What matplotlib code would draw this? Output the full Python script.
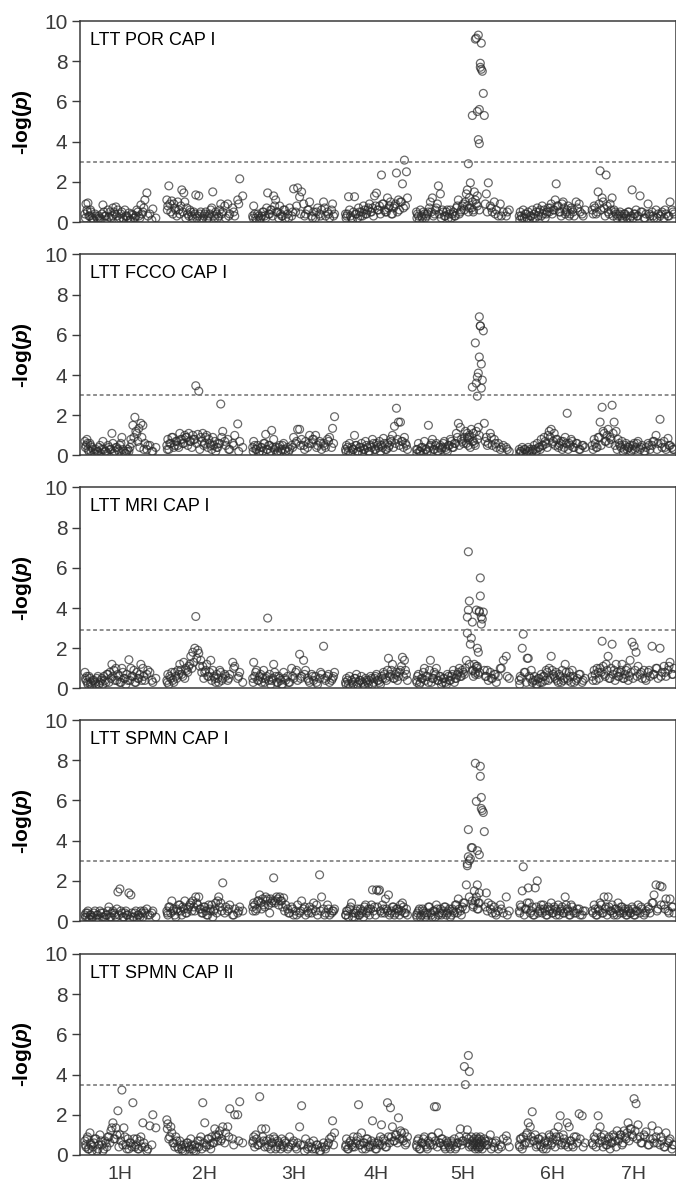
import matplotlib.pyplot as plt

plt.rcParams['font.family'] = ['Liberation Sans', 'DejaVu Sans']
plt.rcParams['mathtext.fontset'] = 'custom'
plt.rcParams['mathtext.it'] = 'Liberation Sans:italic:bold'
plt.rcParams['mathtext.rm'] = 'Liberation Sans:bold'

chroms = ["1H", "2H", "3H", "4H", "5H", "6H", "7H"]

# marker positions, cumulative along the genome
pos_1h = [5, 6, 7, 8, 10, 11, 12, 14, 16, 18, 20, 22, 23, 25, 27, 29, 30, 32, 33, 35,
          36, 38, 40, 42, 44, 46, 48, 49, 51, 53, 55, 57, 59, 61, 63, 65, 67, 70, 73, 76]
pos_2h = [87, 88, 89, 91, 92, 94, 96, 98, 100, 102, 104, 105, 107, 109, 111, 113, 115, 116, 118, 119,
          121, 123, 125, 127, 129, 131, 133, 135, 137, 139, 141, 143, 146, 148, 150, 153, 155, 158, 160, 163]
pos_3h = [173, 174, 176, 178, 180, 182, 184, 186, 188, 190, 192, 194, 196, 198, 200, 202, 204, 206, 208, 210,
          212, 214, 216, 218, 220, 222, 224, 226, 228, 230, 232, 234, 236, 238, 240, 242, 244, 246, 248, 250,
          253, 255]
pos_4h = [266, 267, 269, 270, 272, 274, 275, 277, 279, 281, 282, 284, 286, 288, 290, 291, 293, 295, 297, 299,
          300, 302, 304, 306, 308, 309, 311, 313, 315, 317, 319, 321, 323, 325, 327, 328]
pos_5h = [337, 339, 341, 343, 345, 347, 349, 351, 353, 355, 357, 359, 361, 363, 365, 367, 369, 371, 373, 375,
          377, 379, 381, 383,
          385, 386, 387, 388, 388, 389, 389, 390, 391, 392, 393, 393, 394, 395, 396, 397, 397, 398, 398, 399,
          399, 400, 400, 401, 401, 402, 402, 403, 404, 405,
          407, 409, 411, 413, 415, 417, 419, 421, 424, 427, 430]
pos_6h = [440, 441, 443, 444, 446, 448, 449, 451, 453, 455, 456, 458, 460, 462, 463, 465, 467, 469, 470, 472,
          474, 476, 477, 479, 481, 483, 484, 486, 488, 490, 492, 494, 497, 500, 503, 506]
pos_7h = [513, 515, 517, 519, 521, 523, 525, 527, 529, 531, 533, 535, 537, 539, 541, 543, 545, 547, 549, 551,
          553, 555, 557, 559, 561, 563, 565, 567, 569, 571, 573, 575, 577, 579, 581, 583, 585, 587, 589, 591,
          593, 595]
positions = [pos_1h, pos_2h, pos_3h, pos_4h, pos_5h, pos_6h, pos_7h]

# second marker panel, sitting between the first one
pos2_1h = [5.5, 7.5, 9, 10.5, 13, 15, 17, 19, 21, 24, 26, 28, 31, 34, 37, 39, 41, 43, 45, 47,
           50, 52, 54, 56, 58, 60, 62, 64, 68, 72]
pos2_2h = [87.5, 90, 93, 95, 97, 99, 101, 103, 106, 108, 110, 112, 114, 117, 120, 122, 124, 126, 128, 130,
           132, 134, 136, 138, 140, 142, 145, 149, 154, 159]
pos2_3h = [173.5, 175, 177, 179, 181, 183, 185, 187, 189, 191, 193, 195, 197, 199, 201, 203, 205, 209, 213, 217,
           221, 225, 229, 233, 237, 241, 245, 249, 252, 254]
pos2_4h = [266.5, 268, 271, 273, 276, 278, 280, 283, 285, 287, 289, 292, 294, 296, 298, 301, 303, 305, 307, 310,
           312, 314, 316, 318, 320, 322, 324, 326]
pos2_5h = [337.5, 338, 340, 342, 344, 346, 348, 350, 352, 354, 356, 358, 360, 362, 364, 366, 368, 370, 372, 374,
           376, 378, 380, 382, 384, 390, 394, 396, 398, 400, 406, 408, 412, 416, 422, 428]
pos2_6h = [440.5, 442, 445, 447, 450, 452, 454, 457, 459, 461, 464, 466, 468, 471, 473, 475, 478, 480, 482, 485,
           487, 489, 491, 493, 495, 498, 501, 504]
pos2_7h = [514, 516, 518, 520, 522, 524, 526, 528, 530, 532, 534, 536, 538, 540, 542, 544, 546, 548, 550, 552,
           554, 556, 558, 562, 566, 570, 574, 578, 582, 586, 590, 594]
positions2 = [pos2_1h, pos2_2h, pos2_3h, pos2_4h, pos2_5h, pos2_6h, pos2_7h]

# -log(p) per trait, one list per chromosome
por_cap1 = [
    [0.4, 0.9, 0.6, 0.95, 0.3, 0.5, 0.2, 0.1, 0.3, 0.15, 0.2, 0.4, 0.85, 0.3, 0.1, 0.25, 0.5, 0.3, 0.7, 0.4,
     0.75, 0.6, 0.2, 0.5, 0.1, 0.3, 0.2, 0.45, 0.1, 0.35, 0.2, 0.6, 0.3, 0.85, 0.5, 1.1, 1.45, 0.4, 0.65, 0.2],
    [1.1, 0.8, 1.8, 0.5, 1.05, 0.9, 0.6, 1.0, 0.4, 1.6, 1.45, 1.0, 0.7, 0.3, 0.5, 0.2, 0.4, 1.35, 0.3, 1.3,
     0.5, 0.2, 0.4, 0.1, 0.3, 0.6, 1.5, 0.2, 0.4, 0.3, 0.9, 0.5, 0.2, 0.9, 0.4, 0.7, 0.3, 1.1, 2.15, 1.3],
    [0.3, 0.8, 0.2, 0.4, 0.1, 0.3, 0.5, 0.2, 1.45, 0.4, 0.6, 1.3, 1.1, 0.5, 0.8, 0.3, 0.6, 0.2, 0.4, 0.7,
     0.3, 1.65, 0.5, 1.7, 1.25, 1.5, 0.9, 0.4, 0.6, 1.0, 0.3, 0.5, 0.2, 0.7, 0.4, 0.6, 1.0, 0.3, 0.5, 0.2,
     0.9, 0.4],
    [0.4, 0.3, 1.26, 0.6, 0.2, 0.5, 1.26, 0.4, 0.7, 0.3, 0.5, 0.8, 0.4, 0.6, 0.9, 0.5, 0.7, 1.3, 1.44, 0.6,
     0.8, 2.34, 0.9, 0.5, 1.2, 0.7, 1.0, 0.4, 0.8, 2.44, 1.1, 1.0, 1.9, 3.08, 2.5, 1.2],
    [0.5, 0.3, 0.6, 0.2, 0.4, 0.3, 0.5, 1.0, 1.2, 0.4, 0.7, 1.8, 1.4, 0.6, 0.3, 0.5, 0.2, 0.6, 0.4, 0.3,
     0.7, 1.1, 0.5, 0.8,
     0.6, 1.0, 1.4, 1.6, 0.8, 2.9, 0.5, 1.2, 1.95, 0.7, 5.3, 1.0, 0.6, 1.5, 9.1, 9.15, 0.9, 5.5, 1.3, 9.3,
     4.1, 5.6, 3.9, 7.9, 7.7, 8.9, 7.6, 7.5, 6.4, 5.3,
     1.4, 1.95, 0.8, 0.5, 1.0, 0.6, 0.3, 0.9, 0.5, 0.3, 0.6],
    [0.3, 0.5, 0.2, 0.6, 0.4, 0.2, 0.5, 0.3, 0.6, 0.4, 0.2, 0.7, 0.5, 0.3, 0.8, 0.6, 0.4, 0.7, 0.5, 0.9,
     0.6, 1.1, 1.9, 0.8, 0.5, 0.9, 1.0, 0.4, 0.6, 0.3, 0.7, 0.5, 1.0, 0.9, 0.4, 0.6],
    [0.6, 0.8, 0.4, 1.5, 2.55, 1.2, 0.7, 2.34, 0.5, 0.9, 1.2, 0.6, 0.4, 0.3, 0.5, 0.2, 0.4, 0.3, 0.5, 0.2,
     1.6, 0.4, 0.6, 0.3, 1.3, 0.5, 0.2, 0.4, 0.9, 0.3, 0.5, 0.2, 0.6, 0.4, 0.3, 0.5, 0.2, 0.4, 0.3, 1.0,
     0.6, 0.4],
]
por_cap1_2 = [
    [0.2, 0.5, 0.3, 0.6, 0.1, 0.4, 0.2, 0.3, 0.1, 0.5, 0.3, 0.6, 0.2, 0.5, 0.3, 0.1, 0.4, 0.2, 0.6, 0.3,
     0.1, 0.4, 0.2, 0.3, 0.5, 0.2, 0.4, 0.7, 0.3, 0.1],
    [0.6, 0.9, 0.4, 0.7, 0.3, 0.6, 0.8, 0.5, 0.2, 0.4, 0.6, 0.3, 0.5, 0.2, 0.4, 0.1, 0.3, 0.5, 0.2, 0.4,
     0.7, 0.3, 0.5, 0.2, 0.6, 0.4, 0.8, 0.3, 0.5, 0.9],
    [0.2, 0.4, 0.1, 0.3, 0.2, 0.5, 0.3, 0.7, 0.4, 0.6, 0.3, 0.8, 0.5, 0.2, 0.4, 0.3, 0.6, 0.2, 0.5, 0.8,
     0.4, 0.3, 0.6, 0.2, 0.5, 0.3, 0.7, 0.4, 0.6, 0.3],
    [0.2, 0.4, 0.3, 0.1, 0.4, 0.2, 0.5, 0.3, 0.6, 0.4, 0.7, 0.5, 0.3, 0.8, 0.6, 0.4, 0.9, 0.6, 0.5, 0.8,
     0.4, 0.7, 0.9, 0.5, 0.6, 1.0, 0.7, 0.8],
    [0.2, 0.4, 0.1, 0.3, 0.5, 0.2, 0.4, 0.7, 0.5, 0.3, 0.6, 0.9, 0.4, 0.2, 0.5, 0.3, 0.6, 0.4, 0.2, 0.5,
     0.3, 0.8, 0.4, 0.6, 0.9, 0.7, 0.5, 1.1, 0.8, 0.6, 0.9, 0.5, 0.7, 0.4, 0.3, 0.5],
    [0.1, 0.3, 0.2, 0.4, 0.1, 0.3, 0.2, 0.5, 0.3, 0.6, 0.4, 0.2, 0.5, 0.7, 0.4, 0.6, 0.8, 0.5, 0.3, 0.7,
     0.5, 0.8, 0.4, 0.6, 0.3, 0.7, 0.5, 0.3],
    [0.4, 0.7, 0.5, 0.9, 0.6, 1.0, 0.3, 0.8, 0.4, 0.6, 0.3, 0.5, 0.2, 0.4, 0.3, 0.1, 0.4, 0.2, 0.5, 0.3,
     0.2, 0.4, 0.3, 0.5, 0.2, 0.4, 0.3, 0.2, 0.4, 0.6, 0.3, 0.5],
]

fcco_cap1 = [
    [0.7, 0.5, 0.8, 0.3, 0.6, 0.2, 0.4, 0.1, 0.3, 0.2, 0.5, 0.3, 0.7, 0.2, 0.1, 0.4, 0.3, 1.1, 0.6, 0.2,
     0.4, 0.3, 0.5, 0.9, 0.2, 0.1, 0.3, 0.2, 0.8, 1.5, 1.9, 1.1, 1.35, 1.6, 1.5, 0.6, 0.3, 0.5, 0.2, 0.4],
    [0.5, 0.8, 0.3, 0.6, 0.9, 0.4, 0.7, 0.5, 1.1, 0.8, 0.6, 1.0, 0.9, 1.1, 0.7, 1.0, 0.8, 3.47, 1.05, 3.2,
     0.9, 1.1, 0.6, 1.0, 0.8, 0.5, 0.9, 0.7, 0.4, 0.6, 2.56, 1.2, 0.5, 0.8, 0.3, 0.6, 1.0, 1.57, 0.7, 0.4],
    [0.4, 0.7, 0.3, 0.5, 0.2, 0.4, 0.6, 1.05, 0.3, 0.5, 1.25, 0.8, 0.4, 0.2, 0.5, 0.3, 0.6, 0.2, 0.4, 0.3,
     0.5, 0.9, 0.6, 1.3, 1.3, 0.8, 0.5, 0.7, 0.4, 1.0, 0.6, 0.8, 1.0, 0.5, 0.7, 0.3, 0.6, 0.4, 0.8, 0.9,
     1.35, 1.93],
    [0.3, 0.5, 0.2, 0.6, 0.4, 0.3, 1.0, 0.5, 0.2, 0.4, 0.6, 0.3, 0.7, 0.4, 0.2, 0.5, 0.8, 0.3, 0.6, 0.4,
     0.7, 0.5, 0.85, 0.3, 0.6, 0.4, 0.8, 1.0, 1.45, 2.35, 1.66, 1.66, 0.7, 0.9, 0.5, 0.3],
    [0.3, 0.6, 0.2, 0.4, 0.7, 0.3, 1.5, 0.5, 0.8, 0.3, 0.6, 0.2, 0.5, 0.4, 0.7, 0.3, 0.5, 0.8, 0.4, 0.6,
     1.1, 1.6, 1.4, 0.7,
     0.9, 1.2, 0.6, 0.9, 1.1, 0.5, 0.8, 1.0, 0.4, 1.3, 3.4, 0.7, 1.1, 0.6, 5.6, 3.6, 1.2, 3.9, 2.95, 1.4,
     4.1, 6.9, 4.9, 6.45, 6.44, 3.35, 4.55, 3.75, 6.2, 1.6,
     0.9, 0.6, 1.1, 0.5, 0.8, 0.4, 0.6, 0.3, 0.5, 0.4, 0.2],
    [0.3, 0.2, 0.4, 0.1, 0.3, 0.2, 0.4, 0.3, 0.2, 0.5, 0.3, 0.6, 0.4, 0.8, 0.5, 0.9, 0.6, 1.0, 1.2, 1.3,
     0.7, 0.5, 0.8, 0.4, 0.6, 0.3, 0.7, 0.9, 2.1, 0.6, 0.8, 0.4, 0.6, 0.3, 0.5, 0.4],
    [0.5, 0.8, 0.4, 0.9, 1.66, 2.4, 1.1, 0.7, 1.3, 0.9, 2.5, 1.66, 1.2, 0.8, 0.5, 0.7, 0.3, 0.6, 0.4, 0.5,
     0.3, 0.6, 0.4, 0.7, 0.3, 0.5, 0.2, 0.4, 0.6, 0.3, 0.5, 0.7, 1.0, 0.6, 1.8, 0.4, 0.7, 0.3, 0.85, 0.5,
     0.4, 0.3],
]
fcco_cap1_2 = [
    [0.4, 0.6, 0.2, 0.5, 0.3, 0.1, 0.2, 0.4, 0.1, 0.3, 0.2, 0.5, 0.3, 0.1, 0.4, 0.2, 0.6, 0.3, 0.1, 0.2,
     0.4, 0.6, 0.9, 1.2, 0.7, 0.4, 0.9, 0.3, 0.5, 0.2],
    [0.3, 0.6, 0.9, 0.5, 0.7, 0.4, 0.8, 0.6, 0.9, 0.5, 0.7, 0.4, 0.8, 0.6, 0.3, 0.7, 0.5, 0.9, 0.4, 0.6,
     0.3, 0.5, 0.2, 0.4, 0.6, 0.9, 0.7, 0.3, 0.5, 0.2],
    [0.2, 0.5, 0.3, 0.1, 0.4, 0.2, 0.6, 0.3, 0.5, 0.2, 0.4, 0.3, 0.1, 0.4, 0.2, 0.5, 0.3, 0.2, 0.4, 0.7,
     0.5, 0.3, 0.6, 0.8, 0.4, 0.6, 0.5, 0.7, 0.4, 0.6],
    [0.2, 0.4, 0.1, 0.3, 0.5, 0.2, 0.4, 0.1, 0.3, 0.5, 0.2, 0.4, 0.6, 0.3, 0.5, 0.2, 0.4, 0.6, 0.3, 0.5,
     0.7, 0.4, 0.6, 0.8, 0.5, 0.7, 0.4, 0.6],
    [0.1, 0.3, 0.2, 0.4, 0.1, 0.3, 0.2, 0.4, 0.6, 0.3, 0.5, 0.2, 0.4, 0.3, 0.6, 0.4, 0.2, 0.5, 0.7, 0.4,
     0.6, 0.9, 0.5, 0.8, 0.6, 0.9, 0.7, 0.5, 0.8, 1.0, 0.7, 0.5, 0.9, 0.6, 0.4, 0.3],
    [0.1, 0.2, 0.3, 0.1, 0.2, 0.1, 0.3, 0.2, 0.4, 0.3, 0.5, 0.7, 0.4, 0.9, 0.6, 1.1, 0.8, 0.5, 0.7, 0.4,
     0.6, 0.3, 0.5, 0.7, 0.4, 0.6, 0.3, 0.5],
    [0.3, 0.6, 0.4, 0.9, 0.5, 1.2, 0.7, 1.0, 0.6, 0.8, 1.1, 0.5, 0.3, 0.6, 0.4, 0.2, 0.5, 0.3, 0.4, 0.2,
     0.5, 0.3, 0.6, 0.4, 0.2, 0.5, 0.7, 0.3, 0.6, 0.4, 0.5, 0.3],
]

mri_cap1 = [
    [0.8, 0.4, 0.6, 0.2, 0.5, 0.3, 0.1, 0.4, 0.2, 0.6, 0.3, 0.5, 0.2, 0.4, 0.7, 0.3, 0.8, 1.2, 0.6, 0.4,
     1.0, 0.7, 0.3, 1.0, 0.5, 0.2, 0.4, 1.43, 1.0, 0.6, 0.3, 0.8, 0.5, 1.2, 1.0, 0.4, 0.7, 0.8, 0.3, 0.5],
    [0.4, 0.7, 0.2, 0.5, 0.8, 0.3, 0.6, 0.9, 1.2, 0.7, 1.3, 0.5, 0.9, 1.1, 1.6, 1.8, 2.0, 3.58, 1.9, 1.75,
     1.4, 1.1, 0.8, 1.2, 0.6, 1.4, 0.9, 0.5, 0.7, 0.3, 0.8, 0.5, 0.6, 0.4, 0.7, 1.3, 1.1, 0.5, 0.8, 0.3],
    [0.5, 1.3, 0.8, 0.4, 0.6, 0.3, 0.9, 0.5, 3.5, 0.7, 0.4, 1.2, 0.6, 0.3, 0.5, 0.2, 0.8, 0.4, 0.6, 0.3,
     1.0, 0.5, 0.8, 0.4, 1.7, 0.6, 1.4, 0.9, 0.5, 0.3, 0.7, 0.4, 0.6, 0.2, 0.5, 0.7, 2.1, 0.4, 0.6, 0.3,
     0.5, 0.8],
    [0.3, 0.5, 0.2, 0.6, 0.4, 0.2, 0.5, 0.7, 0.3, 0.4, 0.6, 0.2, 0.5, 0.3, 0.4, 0.6, 0.2, 0.5, 0.7, 0.4,
     0.3, 0.6, 0.8, 0.5, 0.9, 1.5, 0.7, 1.2, 0.5, 0.8, 0.6, 0.9, 1.55, 1.4, 0.7, 0.4],
    [0.4, 0.7, 0.3, 0.5, 1.0, 0.6, 0.3, 1.4, 0.5, 0.8, 1.0, 0.4, 0.6, 0.3, 0.5, 0.2, 0.6, 0.4, 0.7, 0.3,
     0.5, 0.8, 0.6, 0.9,
     0.7, 1.0, 1.4, 3.55, 2.75, 6.8, 3.9, 4.35, 2.2, 2.5, 3.3, 0.9, 0.6, 1.2, 0.8, 3.9, 1.1, 2.0, 1.1, 1.8,
     0.7, 3.8, 3.85, 5.5, 4.6, 3.55, 3.2, 3.45, 3.8, 0.9,
     0.6, 0.4, 0.8, 0.5, 0.7, 0.3, 0.6, 1.0, 1.4, 1.6, 0.5],
    [0.4, 0.6, 2.0, 2.7, 0.8, 1.5, 1.5, 0.5, 0.3, 0.6, 0.4, 0.2, 0.5, 0.7, 0.3, 0.6, 0.9, 0.4, 1.0, 1.6,
     0.7, 0.5, 0.8, 0.3, 0.6, 0.9, 0.4, 1.2, 0.5, 0.8, 0.3, 0.6, 0.4, 0.7, 0.3, 0.5],
    [0.6, 0.9, 0.4, 0.8, 1.0, 2.35, 0.7, 1.2, 1.6, 0.5, 2.2, 0.9, 1.2, 0.6, 0.8, 1.2, 0.5, 0.9, 0.4, 1.4,
     2.3, 2.1, 1.8, 1.1, 0.7, 0.5, 0.9, 0.4, 0.8, 0.6, 2.1, 0.7, 1.0, 0.5, 2.0, 0.8, 1.1, 0.6, 0.9, 1.3,
     0.7, 1.0],
]
mri_cap1_2 = [
    [0.5, 0.3, 0.6, 0.2, 0.4, 0.3, 0.5, 0.2, 0.4, 0.6, 0.3, 0.7, 0.5, 0.9, 0.4, 0.6, 0.3, 0.8, 0.5, 0.7,
     0.4, 0.6, 0.9, 0.3, 0.5, 0.7, 0.4, 0.6, 0.9, 0.4],
    [0.3, 0.6, 0.4, 0.8, 0.5, 0.7, 0.9, 0.6, 1.0, 0.8, 1.2, 1.0, 1.3, 1.5, 1.1, 0.8, 0.5, 0.9, 0.6, 0.8,
     0.4, 0.6, 0.3, 0.5, 0.9, 0.4, 0.7, 0.5, 1.0, 0.6],
    [0.3, 0.6, 0.9, 0.4, 0.7, 0.5, 0.3, 0.6, 0.4, 0.2, 0.5, 0.8, 0.3, 0.6, 0.4, 0.2, 0.5, 0.3, 0.6, 0.9,
     0.5, 0.7, 0.4, 0.6, 0.3, 0.8, 0.5, 0.7, 0.4, 0.6],
    [0.2, 0.4, 0.1, 0.3, 0.5, 0.2, 0.4, 0.3, 0.1, 0.4, 0.2, 0.5, 0.3, 0.6, 0.4, 0.2, 0.5, 0.7, 0.4, 0.6,
     0.9, 0.5, 0.7, 0.4, 0.8, 1.1, 0.6, 0.9],
    [0.3, 0.6, 0.2, 0.5, 0.8, 0.4, 0.6, 0.9, 0.3, 0.5, 0.7, 0.4, 0.6, 0.2, 0.5, 0.3, 0.7, 0.4, 0.6, 0.9,
     0.5, 0.7, 1.0, 0.6, 0.8, 1.2, 0.9, 0.7, 1.0, 0.8, 0.6, 0.9, 0.5, 0.7, 1.0, 0.6],
    [0.2, 0.5, 0.8, 0.3, 0.6, 0.9, 0.4, 0.2, 0.5, 0.3, 0.6, 0.4, 0.8, 0.5, 0.9, 0.6, 0.4, 0.7, 0.3, 0.5,
     0.8, 0.4, 0.6, 0.9, 0.3, 0.5, 0.7, 0.4],
    [0.4, 0.7, 1.0, 0.5, 0.8, 1.1, 0.6, 0.9, 0.5, 1.0, 0.7, 0.4, 0.8, 0.6, 0.9, 0.5, 0.7, 1.0, 0.6, 0.8,
     0.5, 0.9, 0.6, 0.8, 0.5, 0.9, 0.7, 1.0, 0.6, 0.8, 1.1, 0.7],
]

spmn_cap1 = [
    [0.3, 0.4, 0.2, 0.5, 0.1, 0.3, 0.2, 0.4, 0.1, 0.3, 0.5, 0.2, 0.4, 0.1, 0.3, 0.7, 0.2, 0.4, 0.5, 0.3,
     0.2, 1.45, 1.6, 0.4, 0.2, 0.5, 0.3, 1.4, 1.3, 0.2, 0.4, 0.1, 0.3, 0.5, 0.2, 0.4, 0.6, 0.3, 0.5, 0.2],
    [0.5, 0.3, 0.7, 0.4, 1.0, 0.6, 0.2, 0.5, 0.8, 0.3, 0.6, 1.0, 0.4, 0.7, 0.9, 1.0, 0.5, 1.2, 0.8, 1.2,
     0.6, 0.4, 0.7, 0.3, 0.8, 0.5, 0.2, 0.6, 0.4, 1.2, 0.9, 1.9, 0.7, 0.5, 0.8, 0.3, 0.6, 0.4, 0.7, 0.5],
    [0.7, 0.9, 0.5, 1.0, 1.3, 0.6, 0.8, 1.2, 1.1, 0.4, 0.9, 2.15, 1.0, 1.1, 1.2, 1.0, 1.15, 0.8, 0.6, 0.4,
     0.7, 0.3, 0.5, 0.8, 0.4, 1.0, 0.6, 0.3, 0.5, 0.7, 0.4, 0.9, 0.5, 0.3, 2.3, 1.2, 0.6, 0.4, 0.8, 0.3,
     0.5, 0.6],
    [0.3, 0.5, 0.2, 0.6, 0.9, 0.4, 0.2, 0.5, 0.3, 0.6, 0.4, 0.2, 0.8, 0.5, 0.3, 0.6, 1.55, 0.7, 1.55, 1.5,
     1.55, 0.4, 0.6, 1.1, 0.5, 1.3, 0.4, 0.7, 0.3, 0.6, 0.5, 0.8, 0.9, 0.4, 0.6, 0.3],
    [0.3, 0.5, 0.2, 0.6, 0.4, 0.3, 0.7, 0.4, 0.2, 0.5, 0.8, 0.3, 0.6, 0.4, 0.7, 0.3, 0.5, 0.2, 0.6, 0.4,
     0.8, 1.1, 0.5, 0.7,
     0.9, 0.6, 1.8, 2.85, 2.75, 4.55, 3.2, 3.0, 3.1, 3.65, 3.65, 1.0, 0.7, 1.5, 7.85, 5.95, 1.2, 3.5, 1.8, 0.9,
     0.6, 3.3, 1.4, 7.7, 7.2, 6.15, 5.6, 5.5, 5.4, 4.45,
     1.4, 0.9, 0.6, 0.4, 0.7, 0.3, 0.5, 0.8, 0.4, 1.2, 0.5],
    [0.5, 0.8, 1.5, 2.7, 0.6, 0.9, 1.65, 0.4, 0.7, 0.3, 1.65, 2.0, 0.5, 0.8, 0.4, 0.6, 0.3, 0.7, 0.5, 0.9,
     0.4, 0.6, 0.3, 0.8, 0.5, 0.7, 0.4, 1.2, 0.6, 0.3, 0.8, 0.5, 0.4, 0.6, 0.3, 0.5],
    [0.5, 0.8, 0.3, 0.6, 0.9, 0.4, 1.2, 0.7, 1.2, 0.5, 0.8, 0.3, 0.6, 0.9, 0.4, 0.7, 0.5, 0.3, 0.6, 0.4,
     0.7, 0.3, 0.5, 0.8, 0.4, 0.6, 0.3, 0.5, 0.7, 0.4, 0.9, 1.3, 1.8, 0.6, 1.75, 1.7, 0.8, 1.1, 0.5, 1.1,
     0.7, 0.4],
]
spmn_cap1_2 = [
    [0.2, 0.4, 0.1, 0.3, 0.2, 0.5, 0.3, 0.1, 0.4, 0.2, 0.3, 0.5, 0.2, 0.4, 0.6, 0.3, 0.5, 0.2, 0.4, 0.3,
     0.1, 0.4, 0.2, 0.5, 0.3, 0.2, 0.4, 0.5, 0.3, 0.4],
    [0.4, 0.7, 0.5, 0.3, 0.6, 0.8, 0.5, 0.7, 0.4, 0.6, 0.8, 0.5, 0.7, 0.9, 0.6, 0.4, 0.7, 0.5, 0.3, 0.6,
     0.8, 0.5, 0.9, 1.0, 0.7, 0.5, 0.4, 0.6, 0.3, 0.5],
    [0.5, 0.8, 0.6, 1.0, 0.9, 1.1, 0.7, 1.0, 0.8, 1.1, 1.0, 0.9, 1.2, 0.8, 1.0, 0.7, 0.5, 0.4, 0.6, 0.3,
     0.5, 0.7, 0.4, 0.6, 0.8, 0.5, 0.3, 0.6, 0.4, 0.5],
    [0.3, 0.5, 0.7, 0.2, 0.4, 0.6, 0.3, 0.5, 0.7, 0.4, 0.6, 0.8, 0.5, 0.3, 0.7, 0.5, 0.8, 0.4, 0.6, 0.3,
     0.5, 0.7, 0.4, 0.6, 0.3, 0.5, 0.7, 0.4],
    [0.2, 0.4, 0.6, 0.3, 0.5, 0.2, 0.4, 0.7, 0.3, 0.5, 0.2, 0.6, 0.4, 0.3, 0.5, 0.7, 0.4, 0.6, 0.3, 0.5,
     0.8, 0.4, 0.6, 0.3, 0.9, 1.2, 0.8, 1.0, 0.6, 0.9, 0.7, 0.5, 0.8, 0.4, 0.6, 0.3],
    [0.4, 0.7, 0.3, 0.6, 0.9, 0.5, 0.3, 0.7, 0.4, 0.6, 0.8, 0.5, 0.3, 0.6, 0.4, 0.7, 0.5, 0.3, 0.6, 0.4,
     0.8, 0.5, 0.3, 0.7, 0.4, 0.6, 0.3, 0.5],
    [0.4, 0.6, 0.3, 0.5, 0.8, 0.4, 0.6, 0.3, 0.7, 0.5, 0.4, 0.6, 0.3, 0.5, 0.7, 0.4, 0.6, 0.3, 0.5, 0.4,
     0.6, 0.3, 0.5, 0.7, 0.4, 0.6, 0.9, 0.5, 0.8, 0.6, 0.4, 0.7],
]

spmn_cap2 = [
    [0.7, 0.4, 0.8, 0.3, 1.1, 0.5, 0.2, 0.6, 0.8, 0.3, 1.0, 0.5, 0.2, 0.7, 0.4, 0.9, 0.6, 1.35, 1.6, 0.8,
     1.35, 2.2, 1.0, 3.23, 1.35, 0.5, 0.8, 0.3, 0.6, 2.6, 0.4, 0.8, 0.3, 0.9, 1.6, 0.4, 0.2, 1.45, 2.0, 1.35],
    [1.75, 1.55, 0.8, 1.4, 1.1, 0.6, 0.9, 0.4, 0.7, 0.3, 0.5, 0.2, 0.6, 0.4, 0.8, 0.3, 0.5, 0.2, 0.7, 0.4,
     0.9, 2.6, 1.6, 0.5, 0.8, 0.3, 0.6, 1.3, 0.9, 1.0, 0.7, 1.4, 1.1, 1.4, 2.3, 0.8, 2.0, 2.0, 2.65, 0.6],
    [0.6, 0.9, 1.0, 0.5, 2.9, 1.3, 0.7, 1.3, 0.4, 0.8, 0.6, 0.9, 0.3, 0.7, 0.5, 0.8, 0.4, 0.6, 0.3, 0.9,
     0.5, 0.7, 0.4, 0.6, 1.4, 2.45, 0.5, 0.8, 0.3, 0.6, 0.4, 0.7, 0.3, 0.5, 0.2, 0.4, 0.6, 0.3, 0.5, 0.8,
     1.7, 1.1],
    [0.4, 0.8, 0.3, 0.6, 0.5, 0.9, 0.4, 0.7, 2.5, 0.5, 1.1, 0.6, 0.3, 0.8, 0.5, 0.4, 1.7, 0.6, 0.3, 0.7,
     0.5, 1.5, 0.8, 0.4, 2.6, 0.9, 2.35, 1.4, 0.7, 1.0, 1.85, 1.2, 0.8, 1.1, 0.6, 0.9],
    [0.5, 0.8, 0.3, 0.6, 0.9, 0.4, 0.7, 0.5, 0.9, 2.4, 2.4, 1.1, 0.6, 0.8, 0.4, 0.7, 0.5, 0.3, 0.6, 0.8,
     0.4, 0.6, 1.3, 0.7,
     4.4, 3.5, 0.9, 1.25, 0.6, 4.95, 0.8, 4.15, 0.5, 0.9, 0.4, 0.7, 0.5, 0.8, 0.3, 0.6, 0.9, 0.4, 0.7, 0.5,
     0.3, 0.8, 0.6, 0.4, 0.9, 0.5, 0.7, 0.3, 0.6, 0.8,
     0.5, 0.7, 1.0, 0.6, 0.4, 0.7, 0.3, 0.5, 0.8, 0.95, 0.4],
    [0.5, 0.8, 0.3, 0.9, 0.6, 1.1, 1.6, 1.4, 2.15, 0.7, 1.0, 0.5, 0.8, 0.4, 0.9, 0.6, 0.3, 0.7, 1.0, 0.5,
     0.8, 0.4, 0.9, 1.4, 1.95, 0.6, 1.0, 0.5, 1.6, 1.4, 0.7, 0.4, 0.9, 2.05, 1.95, 0.6],
    [0.6, 0.9, 0.4, 1.95, 1.4, 0.7, 1.0, 0.5, 0.8, 0.3, 0.6, 0.9, 0.4, 0.7, 1.0, 0.5, 1.2, 0.8, 1.6, 1.3,
     1.0, 2.8, 2.55, 1.5, 0.9, 0.6, 1.0, 1.15, 0.5, 0.8, 1.45, 0.6, 0.9, 1.2, 0.5, 0.7, 0.4, 1.1, 0.6, 0.8,
     0.3, 0.5],
]
spmn_cap2_2 = [
    [0.5, 0.9, 0.3, 0.6, 0.4, 0.8, 0.2, 0.5, 0.7, 0.3, 0.6, 0.9, 1.2, 0.8, 1.0, 0.4, 0.7, 0.5, 0.9, 0.3,
     0.6, 0.4, 0.8, 0.5, 0.3, 0.7, 0.4, 0.6, 0.3, 0.5],
    [1.3, 0.9, 0.6, 0.4, 0.7, 0.3, 0.5, 0.2, 0.4, 0.6, 0.3, 0.5, 0.2, 0.4, 0.7, 0.3, 0.6, 0.4, 0.8, 0.5,
     0.9, 0.6, 1.0, 0.7, 1.2, 0.8, 0.6, 0.9, 0.5, 0.7],
    [0.7, 0.4, 0.8, 0.5, 0.6, 0.9, 0.4, 0.7, 0.5, 0.3, 0.6, 0.8, 0.4, 0.6, 0.3, 0.5, 0.7, 0.4, 0.6, 0.3,
     0.5, 0.2, 0.4, 0.3, 0.5, 0.2, 0.4, 0.6, 0.9, 0.5],
    [0.5, 0.3, 0.7, 0.4, 0.6, 0.9, 0.5, 0.3, 0.6, 0.8, 0.4, 0.7, 0.5, 0.3, 0.6, 0.9, 0.5, 0.7, 0.4, 0.6,
     0.9, 0.7, 1.0, 0.6, 0.8, 1.1, 0.7, 0.5],
    [0.4, 0.7, 0.3, 0.6, 0.8, 0.5, 0.3, 0.6, 0.9, 0.5, 0.7, 0.4, 0.6, 0.8, 0.5, 0.3, 0.6, 0.4, 0.7, 0.5,
     0.3, 0.6, 0.9, 0.5, 0.7, 0.4, 0.6, 0.5, 0.8, 0.4, 0.7, 0.5, 0.3, 0.6, 0.4, 0.7],
    [0.4, 0.8, 0.5, 1.0, 0.6, 0.9, 0.7, 0.4, 0.8, 0.5, 0.3, 0.7, 0.5, 0.9, 0.6, 1.1, 0.7, 0.9, 0.5, 0.8,
     0.6, 0.4, 0.7, 0.5, 0.9, 0.6, 0.8, 0.4],
    [0.5, 0.8, 1.1, 0.6, 0.9, 0.4, 0.7, 0.5, 0.9, 0.6, 1.0, 0.7, 1.2, 0.8, 1.0, 0.6, 0.9, 1.1, 0.7, 1.3,
     0.9, 1.2, 0.8, 0.6, 0.9, 0.5, 0.8, 0.6, 0.9, 0.4, 0.7, 0.5],
]

titles = ["LTT POR CAP I", "LTT FCCO CAP I", "LTT MRI CAP I", "LTT SPMN CAP I", "LTT SPMN CAP II"]
traits = [por_cap1, fcco_cap1, mri_cap1, spmn_cap1, spmn_cap2]
traits2 = [por_cap1_2, fcco_cap1_2, mri_cap1_2, spmn_cap1_2, spmn_cap2_2]
thresholds = [3.0, 3.0, 2.9, 3.0, 3.5]

for t, t2 in zip(traits, traits2):
    for p, v in zip(positions, t):
        assert len(p) == len(v), (len(p), len(v))
    for p, v in zip(positions2, t2):
        assert len(p) == len(v), (len(p), len(v))

fig = plt.figure(figsize=(6.76, 11.88), dpi=100)
bottoms = [0.8131, 0.6166, 0.4205, 0.2247, 0.0278]
height = 0.1692
grey = '#3a3a3a'

for i in range(5):
    ax = fig.add_axes([0.1183, bottoms[i], 0.8817, height])
    for p, v in zip(positions2, traits2[i]):
        ax.scatter(p, v, s=32, facecolors='none', edgecolors='#2b2b2b',
                   linewidths=0.9, alpha=0.7)
    for p, v in zip(positions, traits[i]):
        ax.scatter(p, v, s=32, facecolors='none', edgecolors='#2b2b2b',
                   linewidths=0.9, alpha=0.7)
    ax.axhline(thresholds[i], color='#707070', lw=1.1, ls=(0, (2.5, 1.8)))
    ax.set_xlim(0, 597)
    ax.set_ylim(0, 10)
    ax.set_yticks([0, 2, 4, 6, 8, 10])
    ax.tick_params(axis='y', length=6, width=1, color=grey, labelcolor=grey,
                   labelsize=15, pad=3)
    for s in ax.spines.values():
        s.set_color(grey)
        s.set_linewidth(1.1)
    ax.text(10, 9.05, titles[i], fontsize=13, va='center', ha='left')
    fig.text(23 / 676, bottoms[i] + height / 2, r'-log($p$)', rotation=90,
             fontsize=15, fontweight='bold', ha='center', va='center')
    if i == 4:
        centers = [(min(p) + max(p)) / 2 for p in positions]
        ax.set_xticks(centers)
        ax.set_xticklabels(chroms)
        ax.tick_params(axis='x', length=0, labelsize=14, labelcolor=grey, pad=8)
    else:
        ax.set_xticks([])

fig.savefig("out.png", dpi=100)
